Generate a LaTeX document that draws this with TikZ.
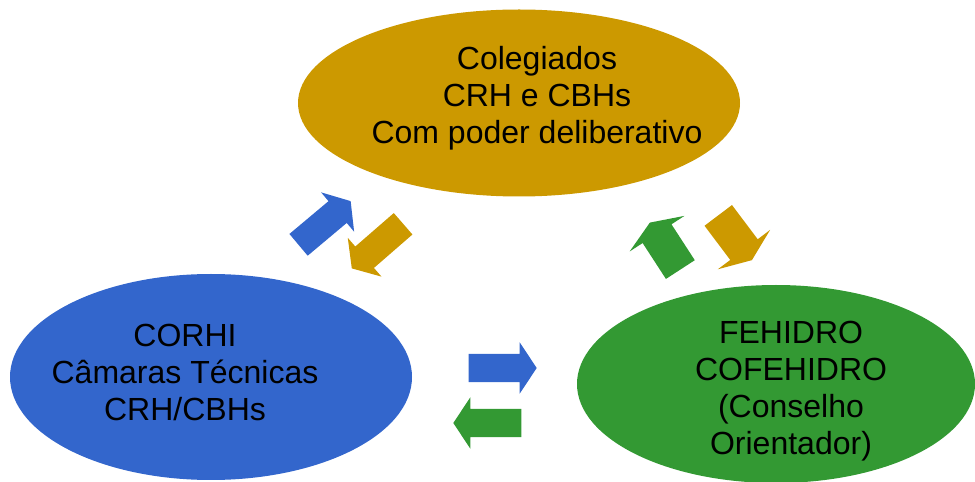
\documentclass[tikz,border=0pt]{standalone}
\usepackage{fontspec}
\setmainfont{Liberation Sans}
\usetikzlibrary{shapes.geometric, shapes.arrows}
\definecolor{gold}{RGB}{204,153,0}
\definecolor{azul}{RGB}{51,102,204}
\definecolor{verde}{RGB}{51,153,51}

\begin{document}
\begin{tikzpicture}[x=1pt, y=1pt,
    council/.style={ellipse, inner sep=0pt},
    council text/.style={align=center, inner sep=0pt,
                  font=\fontsize{32}{37}\selectfont},
    flow/.style={single arrow, draw=none, inner xsep=0pt, inner ysep=14pt,
                  minimum width=0pt, minimum height=68pt,
                  single arrow head extend=11.5pt, single arrow tip angle=113},
    wide flow/.style={flow, inner ysep=17pt, minimum height=56pt,
                  single arrow head extend=15.5pt, single arrow tip angle=136}
]
    \useasboundingbox (0,0) rectangle (975,482);

    % the three councils
    \node[council, fill=gold,  minimum width=442pt, minimum height=187pt] (colegiados) at (519,379) {};
    \node[council, fill=azul,  minimum width=402pt, minimum height=206pt] (corhi)      at (211,105) {};
    \node[council, fill=verde, minimum width=398pt, minimum height=198pt] (fehidro)    at (776,98)  {};

    \node[council text] (colegiados text) at (537,384) {Colegiados\\CRH e CBHs\\Com poder deliberativo};
    \node[council text] (corhi text)      at (185,110) {CORHI\\Câmaras Técnicas\\CRH/CBHs};
    \node[council text] (fehidro text)    at (791,91)  {FEHIDRO\\COFEHIDRO\\(Conselho\\Orientador)};

    % exchanges between them
    \node[flow, fill=azul]              (corhi to fehidro)      at (498,114) {};
    \node[flow, fill=verde, rotate=180] (fehidro to corhi)      at (492,59)  {};
    \node[flow, fill=azul,  rotate=40]  (corhi to colegiados)   at (321,256) {};
    \node[flow, fill=gold,  rotate=221] (colegiados to corhi)   at (381,239) {};
    \node[wide flow, fill=verde, rotate=123] (fehidro to colegiados) at (667,233) {};
    \node[wide flow, fill=gold,  rotate=-53] (colegiados to fehidro) at (733,247) {};
\end{tikzpicture}
\end{document}
